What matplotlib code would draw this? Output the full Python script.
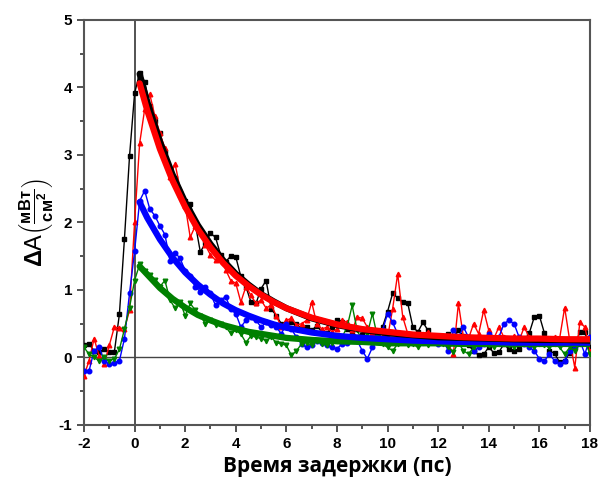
import numpy as np
import matplotlib
matplotlib.use("Agg")
import matplotlib.pyplot as plt
from matplotlib.ticker import MultipleLocator

plt.rcParams['font.family'] = ['Liberation Sans', 'DejaVu Sans']
plt.rcParams['font.weight'] = 'bold'
plt.rcParams['axes.unicode_minus'] = False
plt.rcParams['mathtext.fontset'] = 'custom'
plt.rcParams['mathtext.rm'] = 'Liberation Sans'
plt.rcParams['mathtext.it'] = 'Liberation Sans'

# delay times, ps (step 0.2)
t = np.round(np.arange(-2.0, 18.01, 0.2), 1)

black = [0.18, 0.20, 0.10, 0.08, 0.12, 0.08, 0.08, 0.64, 1.76, 2.98,
         3.91, 4.22, 4.08, 3.72, 3.50, 3.32, 3.05, 2.78, 2.66, 2.40,
         2.32, 2.28, 1.98, 1.56, 1.70, 1.84, 1.78, 1.52, 1.42, 1.50,
         1.49, 1.20, 1.05, 0.82, 0.80, 1.02, 1.14, 0.72, 0.62, 0.50,
         0.48, 0.53, 0.50, 0.42, 0.45, 0.40, 0.47, 0.38, 0.36, 0.45,
         0.55, 0.52, 0.42, 0.38, 0.30, 0.33, 0.40, 0.35, 0.32, 0.45,
         0.68, 0.95, 0.88, 0.82, 0.80, 0.45, 0.38, 0.52, 0.40, 0.28,
         0.30, 0.22, 0.35, 0.28, 0.40, 0.32, 0.18, 0.10, 0.03, 0.05,
         0.15, 0.07, 0.08, 0.20, 0.12, 0.10, 0.12, 0.25, 0.36, 0.60,
         0.62, 0.36, 0.10, 0.06, -0.07, -0.05, 0.07, 0.20, 0.37, 0.37, 0.15]

red = [-0.27, -0.05, 0.28, 0.02, -0.10, 0.18, 0.45, 0.44, 0.42, 0.70,
       2.00, 3.17, 3.68, 3.90, 3.58, 3.32, 3.10, 2.67, 2.87, 2.50,
       2.25, 1.78, 1.95, 1.88, 1.66, 1.52, 1.44, 1.50, 1.30, 1.14,
       1.10, 0.82, 1.05, 0.92, 0.80, 0.85, 0.73, 0.78, 0.62, 0.45,
       0.55, 0.58, 0.48, 0.50, 0.55, 0.82, 0.50, 0.42, 0.45, 0.38,
       0.42, 0.55, 0.52, 0.40, 0.60, 0.58, 0.45, 0.36, 0.28, 0.32,
       0.30, 0.72, 1.24, 0.60, 0.35, 0.25, 0.30, 0.35, 0.38, 0.30,
       0.25, 0.30, 0.20, 0.05, 0.80, 0.30, 0.28, 0.50, 0.35, 0.70,
       0.40, 0.28, 0.45, 0.30, 0.25, 0.32, 0.25, 0.45, 0.30, 0.28,
       0.27, 0.28, 0.27, 0.30, 0.28, 0.74, 0.25, -0.15, 0.52, 0.45, 0.10]

blue = [-0.20, -0.20, 0.10, 0.15, -0.05, -0.10, -0.08, -0.05, 0.28, 0.95,
        1.57, 2.32, 2.47, 2.20, 2.10, 1.95, 1.82, 1.43, 1.55, 1.47,
        1.28, 1.20, 1.05, 0.97, 1.05, 0.95, 0.77, 0.85, 0.90, 0.72,
        0.65, 0.45, 0.55, 0.60, 0.55, 0.45, 0.52, 0.48, 0.45, 0.35,
        0.50, 0.42, 0.30, 0.20, 0.15, 0.18, 0.25, 0.22, 0.18, 0.15,
        0.13, 0.20, 0.22, 0.28, 0.25, 0.10, -0.02, 0.15, 0.25, 0.40,
        0.65, 0.52, 0.35, 0.25, 0.22, 0.28, 0.20, 0.25, 0.22, 0.30,
        0.20, 0.25, 0.10, 0.40, 0.30, 0.45, 0.30, 0.10, 0.15, 0.20,
        0.35, 0.22, 0.30, 0.50, 0.55, 0.50, 0.30, 0.20, 0.15, 0.10,
        -0.02, -0.05, 0.05, -0.05, -0.10, -0.05, 0.10, 0.15, 0.25, 0.05, 0.30]

green = [0.15, 0.05, 0.00, -0.05, 0.00, -0.05, -0.02, 0.12, 0.42, 0.74,
         1.14, 1.38, 1.28, 1.22, 1.15, 1.05, 1.14, 0.85, 0.73, 0.82,
         0.62, 0.80, 0.70, 0.62, 0.50, 0.55, 0.48, 0.50, 0.45, 0.36,
         0.40, 0.35, 0.22, 0.32, 0.30, 0.28, 0.25, 0.30, 0.22, 0.20,
         0.18, 0.03, 0.10, 0.20, 0.22, 0.18, 0.25, 0.20, 0.18, 0.22,
         0.25, 0.30, 0.45, 0.77, 0.40, 0.25, 0.35, 0.65, 0.30, 0.20,
         0.15, 0.10, 0.20, 0.25, 0.18, 0.20, 0.15, 0.22, 0.18, 0.25,
         0.28, 0.20, 0.15, 0.08, 0.22, 0.10, 0.05, 0.15, 0.20, 0.22,
         0.18, 0.15, 0.20, 0.22, 0.18, 0.15, 0.20, 0.22, 0.18, 0.15,
         0.20, 0.18, 0.15, 0.20, 0.15, 0.05, 0.15, 0.10, 0.20, 0.25, 0.05]

# fitted decay curves
fit_t = [0.2, 0.5, 1.0, 1.5, 2.0, 2.5, 3.0, 3.5, 4.0, 4.5, 5.0, 5.5, 6.0,
         7.0, 8.0, 9.0, 10.0, 11.0, 12.0, 13.0, 14.0, 15.0, 16.0, 17.0, 18.0]
fit_black = [4.20, 3.79, 3.20, 2.71, 2.30, 1.96, 1.68, 1.44, 1.24, 1.08, 0.94, 0.83, 0.73,
             0.58, 0.48, 0.41, 0.36, 0.33, 0.30, 0.29, 0.28, 0.27, 0.26, 0.26, 0.25]
fit_red = [4.06, 3.66, 3.09, 2.62, 2.23, 1.90, 1.63, 1.40, 1.21, 1.06, 0.93, 0.82, 0.73,
           0.59, 0.49, 0.42, 0.38, 0.34, 0.32, 0.30, 0.29, 0.28, 0.28, 0.27, 0.27]
fit_blue = [2.30, 2.07, 1.75, 1.48, 1.26, 1.08, 0.93, 0.80, 0.70, 0.62, 0.55, 0.49, 0.44,
            0.37, 0.32, 0.29, 0.27, 0.25, 0.24, 0.23, 0.23, 0.22, 0.22, 0.22, 0.22]
fit_green = [1.35, 1.23, 1.03, 0.87, 0.74, 0.63, 0.55, 0.48, 0.43, 0.38, 0.35, 0.32, 0.29,
             0.26, 0.24, 0.23, 0.21, 0.21, 0.21, 0.20, 0.20, 0.20, 0.20, 0.20, 0.20]

fig = plt.figure(figsize=(6.02, 4.94), dpi=100)
ax = fig.add_axes([0.1395, 0.1397, 0.8405, 0.82])

ax.axvline(0, color='#444444', lw=1.3, zorder=1)
ax.axhline(0, color='#444444', lw=1.0, zorder=1)

ms = 3.3
ax.plot(t, black, '-s', color='black', lw=1, ms=ms, zorder=3)
ax.plot(t, red, '-^', color='red', lw=1, ms=ms, zorder=3)
ax.plot(t, blue, '-o', color='blue', lw=1, ms=ms, zorder=3)
ax.plot(t, green, '-v', color='green', lw=1, ms=ms, zorder=3)

ax.plot(fit_t, fit_green, color='green', lw=4.5, zorder=4, solid_capstyle='round')
ax.plot(fit_t, fit_blue, color='blue', lw=4.5, zorder=4, solid_capstyle='round')
ax.plot(fit_t, fit_black, color='black', lw=4.5, zorder=4, solid_capstyle='round')
ax.plot(fit_t, fit_red, color='red', lw=4.5, zorder=5, solid_capstyle='round')

ax.set_xlim(-2, 18)
ax.set_ylim(-1, 5)
ax.xaxis.set_major_locator(MultipleLocator(2))
ax.xaxis.set_minor_locator(MultipleLocator(1))
ax.yaxis.set_major_locator(MultipleLocator(1))
ax.yaxis.set_minor_locator(MultipleLocator(0.5))
ax.tick_params(which='both', direction='out', top=False, right=False, color='#444444', width=1.3)
ax.tick_params(which='major', length=5, labelsize=11)
ax.tick_params(which='minor', length=3)
for s in ax.spines.values():
    s.set_color('#555555')
    s.set_linewidth(1.5)

ax.set_xlabel('Время задержки (пс)', fontsize=15, fontweight='bold', family='Open Sans')
ax.set_ylabel(r'$\Delta$A$\left(\frac{\mathrm{мВт}}{\mathrm{см}^2}\right)$', fontsize=17,
              fontweight='normal', labelpad=2)

fig.savefig('out.png', dpi=100)
